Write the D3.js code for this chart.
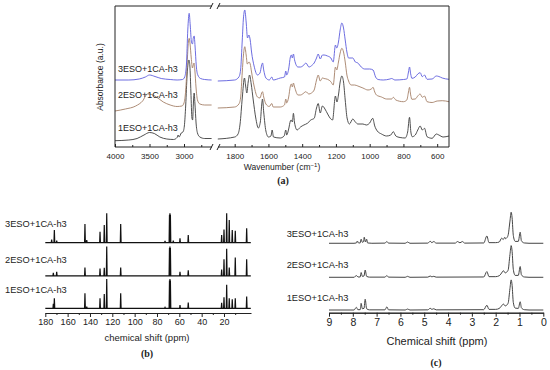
<!DOCTYPE html>
<html><head><meta charset="utf-8">
<script src="https://cdn.jsdelivr.net/npm/d3@7"></script>
<style>
body{margin:0;background:#fff}
svg{display:block}
text{font-family:"Liberation Sans",Arial,sans-serif;fill:#222}
.plab{font-family:"Liberation Serif","Times New Roman",serif;font-weight:bold}
</style>
</head><body>
<svg id="chart" width="550" height="370"></svg>
<script>
// ---------------- DATA ----------------
const seriesNames = ["1ESO+1CA-h3", "2ESO+1CA-h3", "3ESO+1CA-h3"];

// (a) FTIR: [wavenumber cm-1, absorbance a.u. (stacked)]
const ir1High = [[4000,0.063],[3800,0.07],[3680,0.085],[3580,0.12],[3500,0.145],[3430,0.135],[3350,0.10],[3250,0.08],[3150,0.075],[3100,0.095],[3085,0.12],[3070,0.10],[3040,0.14],[3015,0.15],[2995,0.21],[2975,0.42],[2955,0.72],[2940,0.84],[2928,0.87],[2915,0.81],[2900,0.55],[2885,0.29],[2875,0.27],[2865,0.42],[2853,0.54],[2842,0.44],[2825,0.24],[2805,0.14],[2770,0.10],[2700,0.085],[2600,0.085]];
const ir1Low = [[1900,0.08],[1800,0.10],[1780,0.13],[1768,0.23],[1755,0.49],[1742,0.69],[1735,0.61],[1728,0.54],[1720,0.65],[1712,0.72],[1702,0.63],[1690,0.47],[1675,0.29],[1660,0.19],[1648,0.25],[1640,0.42],[1635,0.48],[1628,0.35],[1615,0.16],[1600,0.10],[1585,0.11],[1578,0.17],[1570,0.10],[1530,0.09],[1507,0.11],[1497,0.17],[1492,0.12],[1480,0.18],[1470,0.26],[1465,0.27],[1458,0.25],[1452,0.337],[1445,0.24],[1430,0.17],[1410,0.20],[1390,0.22],[1369,0.237],[1349,0.27],[1329,0.287],[1315,0.39],[1305,0.435],[1293,0.34],[1280,0.41],[1265,0.38],[1249,0.33],[1235,0.29],[1220,0.27],[1203,0.51],[1194,0.45],[1185,0.52],[1175,0.65],[1165,0.71],[1155,0.65],[1145,0.47],[1134,0.29],[1120,0.23],[1100,0.28],[1085,0.25],[1070,0.23],[1040,0.23],[1020,0.22],[1000,0.24],[982,0.287],[970,0.21],[955,0.16],[930,0.13],[900,0.11],[875,0.12],[860,0.153],[845,0.11],[820,0.095],[790,0.09],[775,0.15],[764,0.297],[756,0.15],[748,0.103],[730,0.12],[715,0.17],[701,0.21],[688,0.17],[675,0.187],[660,0.103],[630,0.087],[605,0.13],[590,0.12],[565,0.10],[530,0.11]];
const ir2High = [[4000,0.36],[3850,0.38],[3700,0.41],[3600,0.46],[3530,0.53],[3470,0.525],[3400,0.50],[3300,0.45],[3200,0.42],[3100,0.405],[3030,0.41],[3000,0.44],[2975,0.57],[2955,0.82],[2940,1.02],[2925,1.087],[2912,1.03],[2895,0.89],[2877,0.79],[2865,0.82],[2855,0.84],[2843,0.77],[2825,0.59],[2805,0.47],[2770,0.43],[2700,0.42],[2600,0.42]];
const ir2Low = [[1900,0.39],[1800,0.40],[1775,0.43],[1765,0.49],[1755,0.75],[1748,0.92],[1740,1.003],[1732,0.92],[1725,0.83],[1715,0.85],[1708,0.83],[1700,0.75],[1685,0.61],[1665,0.50],[1650,0.49],[1640,0.54],[1635,0.553],[1628,0.50],[1615,0.43],[1595,0.405],[1580,0.435],[1572,0.40],[1530,0.40],[1505,0.42],[1497,0.48],[1492,0.44],[1480,0.50],[1470,0.61],[1465,0.63],[1458,0.60],[1452,0.64],[1445,0.60],[1425,0.52],[1410,0.52],[1390,0.54],[1379,0.553],[1360,0.53],[1345,0.54],[1329,0.57],[1315,0.67],[1305,0.72],[1293,0.66],[1280,0.69],[1270,0.685],[1250,0.677],[1230,0.653],[1216,0.62],[1203,0.80],[1195,0.77],[1185,0.85],[1175,0.94],[1165,0.987],[1155,0.95],[1145,0.85],[1135,0.72],[1125,0.66],[1110,0.62],[1090,0.62],[1070,0.61],[1040,0.59],[1010,0.57],[990,0.58],[980,0.597],[970,0.55],[960,0.52],[930,0.50],[900,0.48],[870,0.48],[860,0.497],[845,0.47],[800,0.453],[780,0.47],[770,0.55],[764,0.597],[757,0.52],[750,0.477],[730,0.48],[715,0.51],[701,0.53],[688,0.497],[675,0.51],[660,0.453],[630,0.445],[600,0.46],[570,0.463],[530,0.453]];
const ir3High = [[4000,0.67],[3800,0.67],[3650,0.68],[3560,0.70],[3500,0.72],[3420,0.705],[3330,0.685],[3200,0.675],[3100,0.67],[3020,0.675],[2990,0.70],[2965,0.82],[2945,1.17],[2925,1.337],[2910,1.22],[2892,1.05],[2877,1.03],[2865,1.09],[2853,1.11],[2840,1.01],[2822,0.81],[2800,0.72],[2760,0.685],[2700,0.675],[2600,0.67]];
const ir3Low = [[1900,0.66],[1800,0.67],[1775,0.70],[1765,0.77],[1755,1.07],[1748,1.29],[1740,1.37],[1732,1.25],[1724,1.09],[1716,1.12],[1708,1.07],[1700,0.95],[1685,0.81],[1665,0.72],[1650,0.74],[1640,0.82],[1635,0.84],[1628,0.77],[1615,0.69],[1595,0.67],[1580,0.70],[1572,0.67],[1530,0.69],[1505,0.70],[1497,0.76],[1492,0.72],[1480,0.78],[1470,0.90],[1465,0.92],[1458,0.89],[1452,0.93],[1445,0.87],[1425,0.80],[1410,0.80],[1390,0.82],[1378,0.84],[1360,0.80],[1340,0.82],[1329,0.84],[1315,0.89],[1305,0.93],[1293,0.88],[1280,0.92],[1270,0.92],[1250,0.91],[1230,0.89],[1216,0.85],[1203,1.02],[1195,0.99],[1185,1.05],[1175,1.17],[1165,1.24],[1155,1.19],[1145,1.07],[1135,0.95],[1125,0.89],[1110,0.89],[1100,0.89],[1085,0.85],[1070,0.84],[1050,0.80],[1030,0.78],[1000,0.78],[980,0.77],[965,0.70],[950,0.675],[920,0.67],[880,0.68],[870,0.685],[850,0.67],[800,0.675],[780,0.68],[770,0.75],[764,0.80],[757,0.73],[750,0.687],[730,0.70],[715,0.73],[701,0.743],[688,0.703],[675,0.72],[660,0.677],[630,0.68],[605,0.71],[590,0.705],[570,0.69],[530,0.677]];
const irTicksMajorHigh = [4000, 3500, 3000];
const irTicksMinorHigh = [3750, 3250, 2750];
const irTicksMajorLow = [1800, 1600, 1400, 1200, 1000, 800, 600];
const irTicksMinorLow = [1700, 1500, 1300, 1100, 900, 700];
const irLabelY = [0.19, 0.52, 0.78];   // label heights (a.u.)

// (b) 13C NMR peaks: [ppm, relative intensity]
const c13_1 = [[172.8,0.15],[171.9,0.34],[144.5,0.51],[142.9,0.06],[131,0.34],[127.2,0.49],[125,1.0],[112.5,0.51],[72.8,0.03],[68.8,0.95],[68.4,1.0],[68.0,0.95],[59.4,0.11],[52,0.2],[22.1,0.19],[20,0.38],[17.6,0.80],[15.3,0.34],[12.6,0.31],[9.9,0.34],[-0.3,0.40]];
const c13_2 = [[172.8,0.10],[169.8,0.14],[144.5,0.28],[131,0.25],[127.2,0.27],[125,1.0],[112.5,0.28],[68.8,0.95],[68.4,1.0],[68.0,0.95],[59.4,0.14],[52,0.19],[22.1,0.21],[20,0.56],[17.6,0.92],[15.3,0.28],[9.9,0.62],[-0.3,0.56]];
const c13_3 = [[174.3,0.11],[171.9,0.43],[169.8,0.07],[144.5,0.64],[142.9,0.09],[131,0.375],[127.2,0.60],[125,1.0],[112.5,0.64],[72.8,0.06],[68.8,0.95],[68.4,1.0],[68.0,0.95],[65.4,0.07],[59.4,0.15],[52,0.26],[22.1,0.26],[20,0.45],[17.6,1.0],[15.3,0.77],[12.6,0.43],[9.9,0.41],[-0.3,0.49]];
const c13Offsets = [0.16, 1.27, 2.40];
const c13Ticks = [180, 160, 140, 120, 100, 80, 60, 40, 20];
const c13Minor = [170, 150, 130, 110, 90, 70, 50, 30, 10];

// (c) 1H NMR: [ppm, intensity]
const h1_1 = [[9,0],[7.95,0],[7.85,0.085],[7.79,0.01],[7.69,0.01],[7.65,0.21],[7.6,0.04],[7.53,0.05],[7.48,0.34],[7.42,0.04],[7.3,0.005],[6.65,0.005],[6.57,0.10],[6.5,0.005],[5.8,0],[5.7,0.03],[5.6,0],[4.85,0.005],[4.75,0.055],[4.68,0.02],[4.6,0.04],[4.5,0.005],[2.5,0.01],[2.37,0.15],[2.28,0.02],[2.0,0.02],[1.85,0.05],[1.72,0.16],[1.68,0.19],[1.6,0.13],[1.48,0.21],[1.40,0.68],[1.35,0.95],[1.31,0.78],[1.26,0.24],[1.18,0.06],[1.05,0.05],[0.97,0.26],[0.92,0.07],[0.8,0.01],[0.6,0],[0,0]];
const h1_2 = [[9,0],[7.95,0],[7.85,0.054],[7.78,0.01],[7.69,0.01],[7.65,0.15],[7.6,0.03],[7.53,0.04],[7.48,0.23],[7.42,0.03],[7.3,0.005],[6.65,0.005],[6.57,0.054],[6.5,0.005],[5.8,0],[5.7,0.03],[5.6,0],[4.85,0.005],[4.75,0.04],[4.68,0.015],[4.6,0.03],[4.5,0.005],[2.5,0.01],[2.37,0.18],[2.28,0.02],[2.0,0.02],[1.85,0.05],[1.72,0.17],[1.68,0.21],[1.6,0.14],[1.48,0.22],[1.40,0.72],[1.35,1.0],[1.31,0.82],[1.26,0.25],[1.18,0.06],[1.05,0.06],[0.97,0.34],[0.92,0.08],[0.8,0.01],[0.6,0],[0,0]];
const h1_3 = [[9,0],[7.95,0],[7.85,0.01],[7.81,0.07],[7.76,0.01],[7.69,0.01],[7.65,0.13],[7.6,0.03],[7.55,0.05],[7.52,0.19],[7.47,0.04],[7.42,0.13],[7.38,0.01],[7.2,0],[6.65,0.005],[6.57,0.055],[6.5,0.005],[5.8,0],[5.7,0.04],[5.6,0],[4.85,0.005],[4.75,0.063],[4.68,0.02],[4.6,0.055],[4.5,0.005],[3.7,0.005],[3.6,0.055],[3.5,0.015],[3.4,0.055],[3.3,0.005],[2.5,0.01],[2.37,0.23],[2.28,0.02],[2.0,0.02],[1.85,0.04],[1.75,0.16],[1.68,0.12],[1.62,0.19],[1.58,0.14],[1.55,0.16],[1.48,0.25],[1.40,0.7],[1.35,0.98],[1.31,0.8],[1.26,0.25],[1.18,0.06],[1.05,0.06],[0.97,0.35],[0.92,0.08],[0.8,0.01],[0.6,0],[0,0]];
const h1Offsets = [0.085, 1.117, 2.19];
const h1Ticks = [9, 8, 7, 6, 5, 4, 3, 2, 1, 0];
const h1Minor = [8.5, 7.5, 6.5, 5.5, 4.5, 3.5, 2.5, 1.5, 0.5];

// ---------------- DRAWING ----------------
const svg = d3.select("#chart");
const irColors = ["#3c3c3c", "#a47f66", "#5c5cdc"];
const plain = d => String(d);

// ===== (a) FTIR =====
const A = {left: 115, right: 449, top: 6, bottom: 147, breakL: 212, breakR: 218};
const xHigh = d3.scaleLinear().domain([4000, 2600]).range([A.left, 211.6]);
const xLow = d3.scaleLinear().domain([1900, 530]).range([217.8, A.right]);
const yIR = d3.scaleLinear().domain([0, 1.41]).range([A.bottom, A.top]);

const irHigh = [ir1High, ir2High, ir3High];
const irLow = [ir1Low, ir2Low, ir3Low];
const gA = svg.append("g");
[0, 1, 2].forEach(i => {
  const lh = d3.line().x(d => xHigh(d[0])).y(d => yIR(d[1])).curve(d3.curveMonotoneX);
  const ll = d3.line().x(d => xLow(d[0])).y(d => yIR(d[1])).curve(d3.curveMonotoneX);
  gA.append("path").attr("d", lh(irHigh[i])).attr("fill", "none").attr("stroke", irColors[i]).attr("stroke-width", 0.9);
  gA.append("path").attr("d", ll(irLow[i])).attr("fill", "none").attr("stroke", irColors[i]).attr("stroke-width", 0.9);
});

// frame with break
const fr = gA.append("g").attr("stroke", "#222").attr("stroke-width", 1).attr("fill", "none");
fr.append("line").attr("x1", A.left).attr("x2", A.left).attr("y1", A.top).attr("y2", A.bottom);
fr.append("line").attr("x1", A.right).attr("x2", A.right).attr("y1", A.top).attr("y2", A.bottom);
[A.top, A.bottom].forEach(y => {
  fr.append("line").attr("x1", A.left).attr("x2", A.breakL).attr("y1", y).attr("y2", y);
  fr.append("line").attr("x1", A.breakR).attr("x2", A.right).attr("y1", y).attr("y2", y);
  fr.append("line").attr("x1", A.breakL - 2).attr("x2", A.breakL + 1).attr("y1", y + 3).attr("y2", y - 3);
  fr.append("line").attr("x1", A.breakR - 1).attr("x2", A.breakR + 2).attr("y1", y + 3).attr("y2", y - 3);
});

function irAxis(scale, major, minor) {
  const g = gA.append("g").attr("transform", `translate(0,${A.bottom})`);
  g.call(d3.axisBottom(scale).tickValues(major).tickSize(-3).tickSizeOuter(0).tickPadding(6).tickFormat(plain));
  g.append("g").call(d3.axisBottom(scale).tickValues(minor).tickSize(-2).tickSizeOuter(0).tickFormat(""));
  g.selectAll(".domain").remove();
  g.selectAll("line").attr("stroke", "#222");
  g.selectAll("text").style("font-size", "8px").style("font-family", "'Liberation Sans',Arial,sans-serif").attr("fill", "#222");
}
irAxis(xHigh, irTicksMajorHigh, irTicksMinorHigh);
irAxis(xLow, irTicksMajorLow, irTicksMinorLow);

const wt = gA.append("text").attr("x", 282).attr("y", 170).attr("text-anchor", "middle").style("font-size", "8.5px");
wt.append("tspan").text("Wavenumber (cm");
wt.append("tspan").text("\u22121").attr("dy", -3).style("font-size", "6px");
wt.append("tspan").text(")").attr("dy", 3);
gA.append("text").attr("transform", "translate(103,77) rotate(-90)").attr("text-anchor", "middle").style("font-size", "8.5px").text("Absorbance (a.u.)");
[0, 1, 2].forEach(i => {
  gA.append("text").attr("x", 118).attr("y", yIR(irLabelY[i]) + 3).style("font-size", "9px").text(seriesNames[i]);
});
gA.append("text").attr("class", "plab").attr("x", 283).attr("y", 184).attr("text-anchor", "middle").style("font-size", "10px").text("(a)");

// ===== (b) 13C NMR =====
const xC = d3.scaleLinear().domain([180, -4]).range([45.3, 250.8]);
const yC = d3.scaleLinear().domain([0, 3.5]).range([313, 313 - 3.5 * 29.3]);
const gB = svg.append("g");
[c13_1, c13_2, c13_3].forEach((peaks, i) => {
  const pts = [[180, 0]];
  peaks.slice().sort((a, b) => b[0] - a[0]).forEach(p => {
    pts.push([p[0] + 0.35, 0], [p[0], p[1]], [p[0] - 0.35, 0]);
  });
  pts.push([-4, 0]);
  const line = d3.line().x(d => xC(d[0])).y(d => yC(d[1] + c13Offsets[i]));
  gB.append("path").attr("d", line(pts)).attr("fill", "none").attr("stroke", "#111").attr("stroke-width", 1.2);
});
const axB = gB.append("g").attr("transform", "translate(0,313)");
axB.call(d3.axisBottom(xC).tickValues(c13Ticks).tickSize(4).tickSizeOuter(0).tickPadding(2).tickFormat(plain));
axB.append("g").call(d3.axisBottom(xC).tickValues(c13Minor).tickSize(2).tickSizeOuter(0).tickFormat(""));
axB.selectAll("path.domain").attr("stroke", "#222");
axB.selectAll("line").attr("stroke", "#222");
axB.selectAll("text").style("font-size", "9px").style("font-family", "'Liberation Sans',Arial,sans-serif").attr("fill", "#222");
gB.append("text").attr("x", 147).attr("y", 341).attr("text-anchor", "middle").style("font-size", "9.5px").text("chemical shift (ppm)");
const c13LabelY = [290, 259.5, 223.5];
[0, 1, 2].forEach(i => {
  gB.append("text").attr("x", 5).attr("y", c13LabelY[i] + 3.3).style("font-size", "9.3px").text(seriesNames[i]);
});
gB.append("text").attr("class", "plab").attr("x", 147).attr("y", 357).attr("text-anchor", "middle").style("font-size", "10px").text("(b)");

// ===== (c) 1H NMR =====
const xH = d3.scaleLinear().domain([9, 0]).range([329, 543.3]);
const yH = d3.scaleLinear().domain([0, 3.5]).range([312.7, 312.7 - 3.5 * 31.7]);
const gC = svg.append("g");
[h1_1, h1_2, h1_3].forEach((pts, i) => {
  const line = d3.line().x(d => xH(d[0])).y(d => yH(d[1] + h1Offsets[i])).curve(d3.curveMonotoneX);
  gC.append("path").attr("d", line(pts)).attr("fill", "none").attr("stroke", "#444").attr("stroke-width", 1);
});
const axC = gC.append("g").attr("transform", "translate(0,312.7)");
axC.call(d3.axisBottom(xH).tickValues(h1Ticks).tickSize(4).tickSizeOuter(0).tickPadding(1.5).tickFormat(plain));
axC.append("g").call(d3.axisBottom(xH).tickValues(h1Minor).tickSize(2).tickSizeOuter(0).tickFormat(""));
axC.selectAll("path.domain").attr("stroke", "#222");
axC.selectAll("line").attr("stroke", "#222");
axC.selectAll("text").style("font-size", "10.5px").style("font-family", "'Liberation Sans',Arial,sans-serif").attr("fill", "#222");
gC.append("text").attr("x", 437).attr("y", 345).attr("text-anchor", "middle").style("font-size", "11px").text("Chemical shift (ppm)");
const h1LabelY = [297.3, 265, 233.3];
[0, 1, 2].forEach(i => {
  gC.append("text").attr("x", 286.7).attr("y", h1LabelY[i] + 3.3).style("font-size", "9.3px").text(seriesNames[i]);
});
gC.append("text").attr("class", "plab").attr("x", 436).attr("y", 366).attr("text-anchor", "middle").style("font-size", "10px").text("(c)");
</script>
</body></html>
